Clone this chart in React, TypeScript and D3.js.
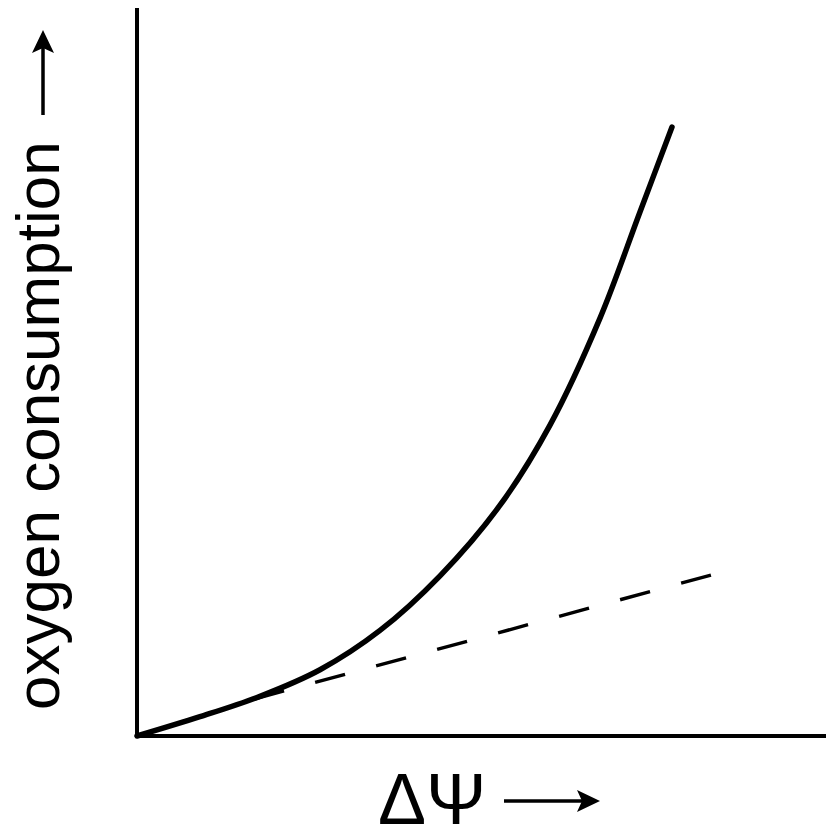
import React from "react";
import * as d3 from "d3";

const W = 826;
const H = 832;

// curve: oxygen consumption vs ΔΨ (arbitrary units)
const curveX = [0, 0.914, 1.785, 2.656, 3.527, 4.398, 5.269, 5.994, 6.72, 7.3, 7.765];
const curveY = [0, 0.265, 0.545, 0.91, 1.45, 2.2, 3.17, 4.27, 5.74, 7.198, 8.365];

// dashed linear extrapolation
const dashX = [1.7, 8.33];
const dashY = [0.508, 2.21];

const xLabel = "ΔΨ";
const yLabel = "oxygen consumption";

export default function App() {
  const x = d3.scaleLinear().domain([0, 10]).range([137, 826]);
  const y = d3.scaleLinear().domain([0, 10]).range([736, 8]);

  const line = d3
    .line<[number, number]>()
    .x((d) => x(d[0]))
    .y((d) => y(d[1]))
    .curve(d3.curveCatmullRom.alpha(0.5));
  const straight = d3
    .line<[number, number]>()
    .x((d) => x(d[0]))
    .y((d) => y(d[1]));

  const curvePts: [number, number][] = curveX.map((v, i) => [v, curveY[i]]);
  const dashPts: [number, number][] = dashX.map((v, i) => [v, dashY[i]]);

  return (
    <svg
      width={W}
      height={H}
      viewBox={`0 0 ${W} ${H}`}
      style={{ position: "absolute", left: 0, top: 0, background: "#fff" }}
    >
      <rect x={0} y={0} width={W} height={H} fill="#fff" />
      {/* axes */}
      <line x1={x(0)} y1={y(10)} x2={x(0)} y2={y(0) + 2} stroke="#000" strokeWidth={4} />
      <line x1={x(0) - 2} y1={y(0)} x2={x(10)} y2={y(0)} stroke="#000" strokeWidth={4} />
      {/* dashed line */}
      <path
        d={straight(dashPts) || ""}
        fill="none"
        stroke="#000"
        strokeWidth={3.4}
        strokeDasharray="31 32.2"
      />
      {/* curve */}
      <path
        d={line(curvePts) || ""}
        fill="none"
        stroke="#000"
        strokeWidth={5.5}
        strokeLinecap="round"
      />
      {/* x label */}
      <text
        x={378}
        y={824}
        fontFamily="'Liberation Sans', Arial, sans-serif"
        fontSize={72}
        fill="#000"
      >
        {xLabel}
      </text>
      <line x1={504} y1={801} x2={582} y2={801} stroke="#000" strokeWidth={3.5} />
      <path d="M600,801 L577,790 L582,801 L577,812 Z" fill="#000" />
      {/* y label */}
      <text
        transform="translate(59,710) rotate(-90)"
        x={0}
        y={0}
        fontFamily="'Liberation Sans', Arial, sans-serif"
        fontSize={62}
        fill="#000"
      >
        {yLabel}
      </text>
      <line x1={43} y1={115} x2={43} y2={48} stroke="#000" strokeWidth={3.5} />
      <path d="M43,30 L32,53 L43,48 L54,53 Z" fill="#000" />
    </svg>
  );
}
